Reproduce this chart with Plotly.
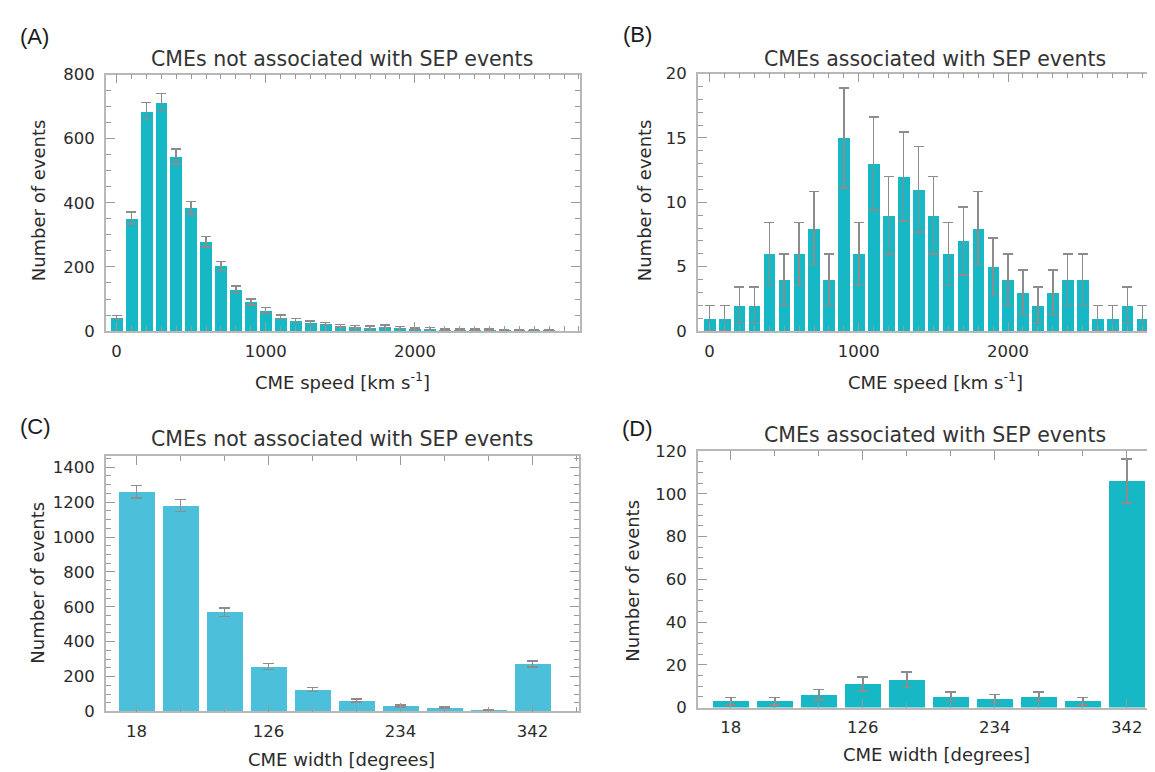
import plotly.graph_objects as go

W, H = 1155, 772

# ---------------- data ----------------
speed_bins = [0, 100, 200, 300, 400, 500, 600, 700, 800, 900,
              1000, 1100, 1200, 1300, 1400, 1500, 1600, 1700, 1800, 1900,
              2000, 2100, 2200, 2300, 2400, 2500, 2600, 2700, 2800, 2900]
speed_nosep = [42, 352, 686, 714, 545, 385, 279, 203, 129, 91,
               65, 43, 33, 26, 22, 17, 13, 12, 15, 11,
               7, 8, 6, 5, 5, 5, 3, 3, 2, 2]
speed_nosep_err = [6.5, 18.8, 26.2, 26.7, 23.3, 19.6, 16.7, 14.2, 11.4, 9.5,
                   8.1, 6.6, 5.7, 5.1, 4.7, 4.1, 3.6, 3.5, 3.9, 3.3,
                   2.6, 2.8, 2.4, 2.2, 2.2, 2.2, 1.7, 1.7, 1.4, 1.4]
speed_sep = [1, 1, 2, 2, 6, 4, 6, 8, 4, 15,
             6, 13, 9, 12, 11, 9, 6, 7, 8, 5,
             4, 3, 2, 3, 4, 4, 1, 1, 2, 1]
speed_sep_err = [1.0, 1.0, 1.41, 1.41, 2.45, 2.0, 2.45, 2.83, 2.0, 3.87,
                 2.45, 3.61, 3.0, 3.46, 3.32, 3.0, 2.45, 2.65, 2.83, 2.24,
                 2.0, 1.73, 1.41, 1.73, 2.0, 2.0, 1.0, 1.0, 1.41, 1.0]

width_bins = [18, 54, 90, 126, 162, 198, 234, 270, 306, 342]
width_nosep = [1260, 1180, 568, 258, 125, 63, 31, 22, 5, 272]
width_nosep_err = [35.5, 34.4, 23.8, 16.1, 11.2, 7.9, 5.6, 4.7, 2.2, 16.5]
width_sep = [3, 3, 6, 11, 13, 5, 4, 5, 3, 106]
width_sep_err = [1.73, 1.73, 2.45, 3.32, 3.61, 2.24, 2.0, 2.24, 1.73, 10.3]

speed_ticks = [0, 1000, 2000]
width_ticks = [18, 126, 234, 342]

title_nosep = "CMEs not associated with SEP events"
title_sep = "CMEs associated with SEP events"
ylab = "Number of events"
xlab_speed = "CME speed [km s<sup>-1</sup>]"
xlab_width = "CME width [degrees]"

# ---------------- style ----------------
TEAL = "#17b8c5"
LIGHT = "#4cc0da"
ERR = "#8c8c8c"
LINE = "#b8b8b8"
TICK = "#9a9a9a"
TXT = "#2a2a2a"
FONT = "DejaVu Sans"


def px_x(p):
    return p / W


def px_y(p):
    return 1 - p / H


fig = go.Figure()


def add_bars(x, y, err, color, width, cap, xa, ya):
    fig.add_trace(go.Bar(
        x=x, y=y, width=width, marker=dict(color=color, line=dict(width=0)),
        error_y=dict(type="data", array=err, visible=True, color=ERR,
                     thickness=1.5, width=cap),
        xaxis=xa, yaxis=ya, showlegend=False))


add_bars(speed_bins, speed_nosep, speed_nosep_err, TEAL, 80, 5, "x", "y")
add_bars(speed_bins, speed_sep, speed_sep_err, TEAL, 78, 5, "x2", "y2")
add_bars(width_bins, width_nosep, width_nosep_err, LIGHT, 29.5, 5.5, "x3", "y3")
add_bars(width_bins, width_sep, width_sep_err, TEAL, 29, 5.5, "x4", "y4")


def xaxis(dom, rng, tickvals, minor_dtick, minor_tick0, anchor):
    return dict(domain=dom, range=rng, anchor=anchor,
                tickmode="array", tickvals=tickvals,
                ticks="inside", ticklen=9, tickwidth=1.2, tickcolor=TICK,
                minor=dict(ticks="inside", ticklen=5, tickwidth=1, tickcolor=TICK,
                           dtick=minor_dtick, tick0=minor_tick0, showgrid=False),
                showline=True, linecolor=LINE, linewidth=1.5, mirror="ticks",
                showgrid=False, zeroline=False,
                tickfont=dict(family=FONT, size=16.5, color=TXT),
                ticklabelstandoff=4)


def yaxis(dom, rng, dtick, minor_dtick, anchor):
    return dict(domain=dom, range=rng, anchor=anchor,
                tick0=0, dtick=dtick,
                ticks="inside", ticklen=9, tickwidth=1.2, tickcolor=TICK,
                minor=dict(ticks="inside", ticklen=5, tickwidth=1, tickcolor=TICK,
                           dtick=minor_dtick, tick0=0, showgrid=False),
                showline=True, linecolor=LINE, linewidth=1.5, mirror="ticks",
                showgrid=False, zeroline=False,
                tickfont=dict(family=FONT, size=16.5, color=TXT),
                ticklabelstandoff=6)


# panel frames in pixels
A = dict(l=98, r=573, t=59, b=322)
B = dict(l=691, r=1155, t=58, b=322)
C = dict(l=98, r=572, t=450, b=712)
D = dict(l=691, r=1155, t=445, b=708)


def dx(p):
    return [px_x(p["l"]), min(1.0, px_x(p["r"]))]


def dy(p):
    return [px_y(p["b"]), px_y(p["t"])]


fig.update_layout(
    width=W, height=H,
    margin=dict(l=0, r=0, t=0, b=0, pad=0),
    paper_bgcolor="white", plot_bgcolor="white",
    bargap=0,
    xaxis=xaxis(dx(A), [-72, 3107], speed_ticks, 100, 0, "y"),
    yaxis=yaxis(dy(A), [0, 800], 200, 50, "x"),
    xaxis2=xaxis(dx(B), [-79, 3025], speed_ticks, 100, 0, "y2"),
    yaxis2=yaxis(dy(B), [0, 20], 5, 1, "x2"),
    xaxis3=xaxis(dx(C), [-7, 380], width_ticks, 36, 18, "y3"),
    yaxis3=yaxis(dy(C), [0, 1465], 200, 50, "x3"),
    xaxis4=xaxis(dx(D), [-9, 370], width_ticks, 36, 18, "y4"),
    yaxis4=yaxis(dy(D), [0, 120], 20, 5, "x4"),
)

ann = []


def text(s, x, y, size, rot=0, color=TXT, family=FONT):
    ann.append(dict(text=s, x=px_x(x), y=px_y(y), xref="paper", yref="paper",
                    xanchor="center", yanchor="middle", showarrow=False,
                    textangle=rot, font=dict(family=family, size=size, color=color)))


# panel letters
text("(A)", 27, 20, 22, family="Liberation Sans", color="#1a1a1a")
text("(B)", 631, 18, 22, family="Liberation Sans", color="#1a1a1a")
text("(C)", 28, 420, 22, family="Liberation Sans", color="#1a1a1a")
text("(D)", 631, 422, 22, family="Liberation Sans", color="#1a1a1a")

# panel titles
text(title_nosep, 335, 43, 20.5, color="#333333")
text(title_sep, 929, 43, 20.5, color="#333333")
text(title_nosep, 335, 433, 20.5, color="#333333")
text(title_sep, 929, 429, 20.5, color="#333333")

# y titles
text(ylab, 30, 188, 18, rot=-90)
text(ylab, 637, 188, 18, rot=-90)
text(ylab, 30, 580, 18, rot=-90)
text(ylab, 626, 578, 18, rot=-90)

# x titles
text(xlab_speed, 335, 373, 18)
text(xlab_speed, 929, 373, 18)
text(xlab_width, 334, 761, 18)
text(xlab_width, 930, 756, 18)

fig.update_layout(annotations=ann)

fig.write_html("out.html", config=dict(displayModeBar=False))
